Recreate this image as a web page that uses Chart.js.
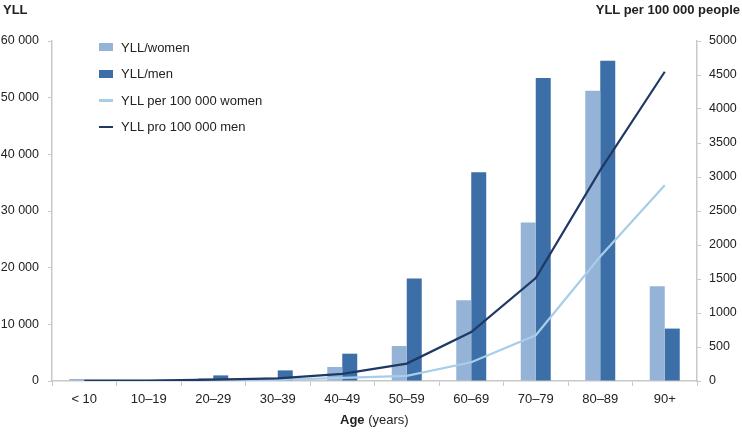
<!DOCTYPE html>
<html>
<head>
<meta charset="utf-8">
<script src="https://cdn.jsdelivr.net/npm/chart.js@4.4.1/dist/chart.umd.min.js"></script>
<style>
  body { margin: 0; background: #fff; font-family: "Liberation Sans", Arial, sans-serif; }
  #wrap { position: relative; width: 742px; height: 432px; }
  .lbl { position: absolute; color: #222; font-size: 13px; white-space: nowrap; }
  .ttl { font-weight: bold; }
  #legend { position: absolute; left: 99px; top: 34px; }
  #legend div { height: 26.5px; display: flex; align-items: center; font-size: 13px; color: #222; }
  #legend span.sw { display: inline-block; width: 14px; margin-right: 8px; }
</style>
</head>
<body>
<div id="wrap">
  <canvas id="myChart" width="742" height="432"></canvas>
  <div class="lbl ttl" style="left:3px; top:2px;">YLL</div>
  <div class="lbl ttl" style="right:2px; top:2px;">YLL per 100 000 people</div>
  <div class="lbl" style="left:340px; top:412px;"><b>Age</b> (years)</div>
  <div id="legend"></div>
</div>
<script>
// 연령 구간
var ageGroups = ['< 10', '10–19', '20–29', '30–39', '40–49', '50–59', '60–69', '70–79', '80–89', '90+'];
// YLL (왼쪽 축)
var yllWomen = [350, 0, 500, 590, 2470, 6180, 14240, 27950, 51240, 16710];
var yllMen = [0, 0, 990, 1870, 4820, 18070, 36830, 53480, 56530, 9250];
// 10만명당 YLL (오른쪽 축)
var ratePerWomen = [3, 3, 10, 18, 45, 75, 275, 672, 1830, 2878];
var ratePerMen = [5, 5, 20, 40, 105, 256, 720, 1515, 3100, 4548];
var leftTicks = [0, 10000, 20000, 30000, 40000, 50000, 60000];

var cWomen = '#95b3d7';
var cMen = '#3c6ea8';
var cLineW = '#a8cde8';
var cLineM = '#1f3864';
var axisGray = '#c8c8c8';
var tickFont = { size: 12.5, family: 'Liberation Sans' };

const chartConfig = {
  type: 'bar',
  data: {
    labels: ageGroups,
    datasets: [
      { type: 'line', label: 'YLL pro 100 000 men', data: ratePerMen, borderColor: cLineM, backgroundColor: cLineM,
        borderWidth: 2.2, pointRadius: 0, yAxisID: 'y1', order: 0 },
      { type: 'line', label: 'YLL per 100 000 women', data: ratePerWomen, borderColor: cLineW, backgroundColor: cLineW,
        borderWidth: 2.2, pointRadius: 0, yAxisID: 'y1', order: 1 },
      { label: 'YLL/women', data: yllWomen, backgroundColor: cWomen, yAxisID: 'y', order: 2,
        categoryPercentage: 0.465, barPercentage: 1 },
      { label: 'YLL/men', data: yllMen, backgroundColor: cMen, yAxisID: 'y', order: 3,
        categoryPercentage: 0.465, barPercentage: 1 }
    ]
  },
  options: {
    responsive: false,
    animation: false,
    layout: { padding: { top: 41, left: 0, right: 0, bottom: 0 } },
    plugins: {
      legend: { display: false },
      title: { display: false },
      tooltip: { enabled: false }
    },
    scales: {
      x: {
        grid: { drawOnChartArea: false, color: axisGray, tickLength: 5, offset: true },
        border: { color: axisGray, width: 1.5 },
        ticks: { color: '#222', font: { size: 13, family: 'Liberation Sans' }, padding: 6, maxRotation: 0 },
        afterFit: function (s) { s.height = 51; }
      },
      y: {
        position: 'left',
        min: 0, max: 60000,
        afterBuildTicks: function (s) { s.ticks = leftTicks.map(v => ({ value: v })); },
        grid: { drawOnChartArea: false, color: axisGray, tickLength: 4 },
        border: { color: axisGray, width: 1.5 },
        ticks: {
          color: '#222', font: tickFont, padding: 9,
          callback: function (v) { return String(v).replace(/\B(?=(\d{3})+(?!\d))/g, ' '); }
        },
        afterFit: function (s) { s.width = 52; }
      },
      y1: {
        position: 'right',
        min: 0, max: 5000,
        ticks: {
          stepSize: 500, color: '#222', font: tickFont, padding: 8,
          callback: function (v) { return String(v); }
        },
        grid: { drawOnChartArea: false, color: axisGray, tickLength: 4 },
        border: { color: axisGray, width: 1.5 },
        afterFit: function (s) { s.width = 45; }
      }
    }
  }
};

// 범례 (차트 안쪽 좌상단)
function addLegend() {
  var items = [
    { t: 'YLL/women', c: cWomen, h: 8 },
    { t: 'YLL/men', c: cMen, h: 8 },
    { t: 'YLL per 100 000 women', c: cLineW, h: 2.5 },
    { t: 'YLL pro 100 000 men', c: cLineM, h: 2.5 }
  ];
  var lg = document.querySelector('#legend');
  items.forEach(function (it) {
    var row = document.createElement('div');
    row.innerHTML = `<span class="sw" style="height:${it.h}px;background:${it.c}"></span>${it.t}`;
    lg.appendChild(row);
  });
}

addLegend();
var myChart = new Chart(document.querySelector('#myChart'), chartConfig);
</script>
</body>
</html>
